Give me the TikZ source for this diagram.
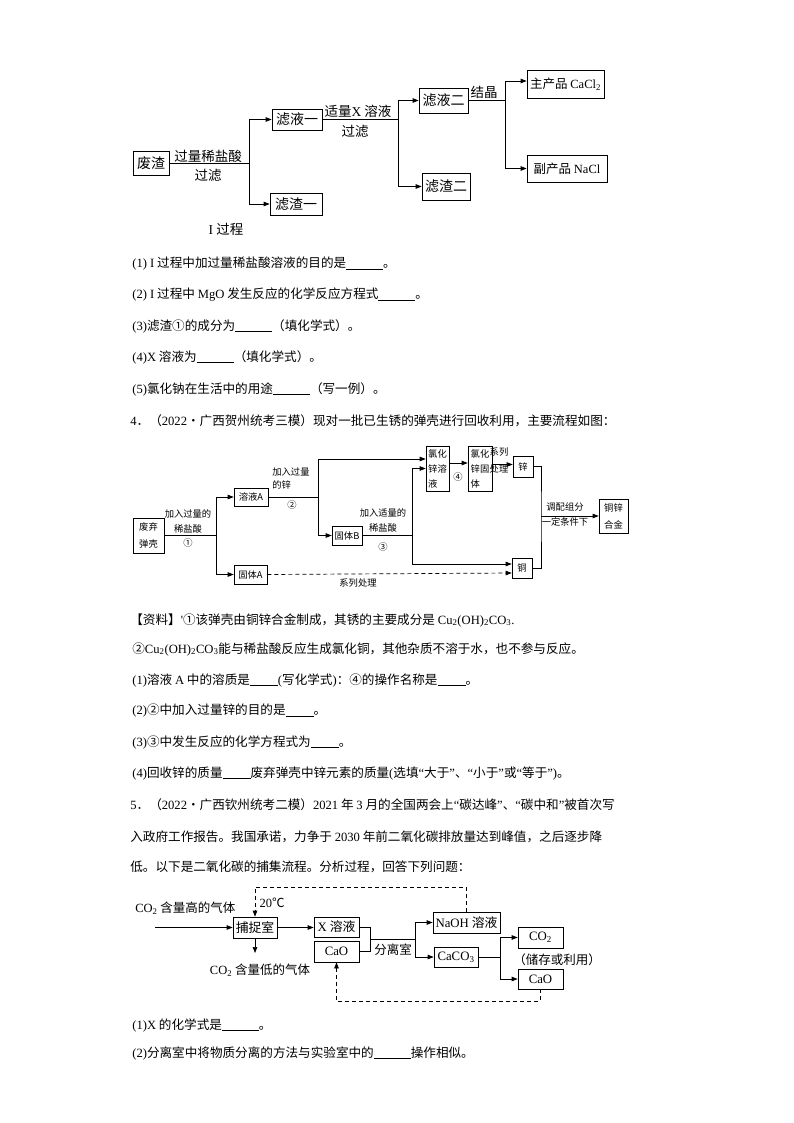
\documentclass[tikz,border=0pt]{standalone}
\usepackage{fontspec}
\setmainfont{Noto Sans CJK SC}
\newfontfamily\lat{Liberation Serif}
\usetikzlibrary{arrows.meta}
\newcommand\tm[1]{{\lat #1}}
\newcommand\blank[1]{\rule[-1.5pt]{#1pt}{0.5pt}}
\begin{document}
\begin{tikzpicture}[x=1pt,y=-1pt, line width=0.7pt,
 >={Triangle[length=6pt,width=4.5pt]},
 b1/.style={draw, inner sep=0pt, font=\fontsize{14}{15}\selectfont},
 b2/.style={draw, inner sep=0pt, line width=0.6pt, font=\fontsize{9.3}{15}\selectfont, align=center},
 b3/.style={draw, inner sep=0pt, font=\fontsize{12.8}{15}\selectfont},
 l1/.style={inner sep=0pt, font=\fontsize{13.5}{15}\selectfont},
 l2/.style={inner sep=0pt, font=\fontsize{9.3}{13}\selectfont},
 l3/.style={inner sep=0pt, font=\fontsize{12.5}{15}\selectfont},
 txt/.style={anchor=west, inner sep=0pt, font=\fontsize{12.6}{15}\selectfont},
 dsh/.style={dash pattern=on 4pt off 3pt}]
\fill[white] (0,0) rectangle (794,1123);
\useasboundingbox (0,0) rectangle (794,1123);

% ---------- diagram 1 ----------
\node[b1,minimum width=36,minimum height=24] (fz) at (151,163) {废渣};
\node[b1,minimum width=50,minimum height=21] (ly1) at (297,119.5) {滤液一};
\node[b1,minimum width=52,minimum height=22] (lz1) at (296,204) {滤渣一};
\node[b1,minimum width=49,minimum height=25] (ly2) at (443.5,100.5) {滤液二};
\node[b1,minimum width=48,minimum height=27] (lz2) at (446,186.5) {滤渣二};
\node[b1,minimum width=77,minimum height=28,font=\fontsize{12.5}{15}\selectfont] (zp) at (565.5,84) {主产品 \tm{CaCl\textsubscript{2}}};
\node[b1,minimum width=80,minimum height=27,font=\fontsize{12.5}{15}\selectfont] (fp) at (567,168.5) {副产品 \tm{NaCl}};

\draw (fz.east) -- ++(80,0) coordinate (j1);
\draw[->] (j1) |- (ly1.west);
\draw[->] (j1) |- (lz1.west);
\draw (ly1.east) -- ++(76,0) coordinate (j2);
\draw[->] (j2) |- (ly2.west);
\draw[->] (j2) |- (lz2.west);
\draw (ly2.east) -- ++(37,0) coordinate (j3);
\draw[->] (j3) |- ([yshift=3pt]zp.west);
\draw[->] (j3) |- (fp.west);

\node[l1] (t1a) at (208,156) {过量稀盐酸};
\node[l1] (t1b) at (208,175) {过滤};
\node[l1] (t1c) at (358,111) {适量\tm{X} 溶液};
\node[l1] (t1d) at (355,131) {过滤};
\node[l1] (t1e) at (484,92) {结晶};
\node[l1] (t1f) at (226,229) {\tm{I} 过程};

% ---------- questions 1 ----------
\node[txt] (q1) at (132,264) {\tm{(1) I} 过程中加过量稀盐酸溶液的目的是\blank{37}。};
\node[txt] (q2) at (132,295) {\tm{(2) I} 过程中 \tm{MgO} 发生反应的化学反应方程式\blank{37}。};
\node[txt] (q3) at (132,326) {\tm{(3)}滤渣①的成分为\blank{37}（填化学式）。};
\node[txt] (q4) at (132,357) {\tm{(4)X} 溶液为\blank{37}（填化学式）。};
\node[txt] (q5) at (132,389) {\tm{(5)}氯化钠在生活中的用途\blank{37}（写一例）。};
\node[txt] (q6) at (130,421) {\tm{4}．（\tm{2022}·广西贺州统考三模）现对一批已生锈的弹壳进行回收利用，主要流程如图：};

% ---------- diagram 2 ----------
\node[b2,minimum width=31,minimum height=35] (fq) at (148.5,535.5) {废弃\\[2pt]弹壳};
\node[b2,minimum width=34,minimum height=18] (rya) at (251,497) {溶液A};
\node[b2,minimum width=33,minimum height=19] (gta) at (250.5,574.5) {固体A};
\node[b2,minimum width=30,minimum height=19] (gtb) at (347,535.5) {固体B};
\node[b2,minimum width=23,minimum height=45,align=left] (lhr) at (437.5,468.5) {氯化\\锌溶\\液};
\node[b2,minimum width=24,minimum height=45,align=left] (lhg) at (480,468.5) {氯化\\锌固\\体};
\node[b2,minimum width=20,minimum height=21] (xin) at (523,466.5) {锌};
\node[b2,minimum width=20,minimum height=20] (tong) at (522,568) {铜};
\node[b2,minimum width=29,minimum height=34] (hj) at (613.5,516) {铜锌\\[2pt]合金};

\draw (fq.east) -- ++(52,0) coordinate (k1);
\draw[->] (k1) |- (rya.west);
\draw[->] (k1) |- (gta.west);
\draw (rya.east) -- ++(50,0) coordinate (k2);
\draw[->] (k2) |- ([yshift=9.5pt]lhr.west);
\draw[->] (k2) |- (gtb.west);
\draw (gtb.east) -- ++(50,0) coordinate (k3);
\draw[->] (k3) |- (lhr.west);
\draw[->] (k3) |- ([yshift=4pt]tong.west);
\draw[->,dsh] (gta.east) -- ([yshift=1.5pt]gta.east -| tong.west);
\draw[->] ([yshift=5.5pt]lhr.east) -- ([yshift=5.5pt]lhr.east -| lhg.west);
\draw[->] ([yshift=4pt]lhg.east) -- ([yshift=4pt]lhg.east -| xin.west);
\coordinate (k4) at (541,516);
\draw (xin.east) -| (k4) |- (tong.east);
\draw[->] (k4) -- (hj.west);

\node[l2] (a1) at (188,514) {加入过量的};
\node[l2] (a2) at (188,529) {稀盐酸};
\node[l2] (a3) at (188,543) {①};
\node[l2,align=left,anchor=north west] (a4) at (272,467) {加入过量\\的锌};
\node[l2] (a5) at (292,505) {②};
\node[l2] (a6) at (383,513) {加入适量的};
\node[l2] (a7) at (383,528) {稀盐酸};
\node[l2] (a8) at (383,547) {③};
\node[l2] (a9) at (458,477) {④};
\node[l2] (a10) at (499,452) {系列};
\node[l2] (a11) at (499,469) {处理};
\node[l2] (a12) at (358,583) {系列处理};
\node[l2] (a13) at (565,507) {调配组分};
\node[l2] (a14) at (565,522) {一定条件下};

% ---------- questions 2 ----------
\node[txt] (r1) at (130,620) {【资料】\tm{'}①该弹壳由铜锌合金制成，其锈的主要成分是 \tm{Cu\textsubscript{2}(OH)\textsubscript{2}CO\textsubscript{3}.}};
\node[txt] (r2) at (132,649) {②\tm{Cu\textsubscript{2}(OH)\textsubscript{2}CO\textsubscript{3}}能与稀盐酸反应生成氯化铜，其他杂质不溶于水，也不参与反应。};
\node[txt] (r3) at (132,680) {\tm{(1)}溶液 \tm{A} 中的溶质是\blank{28}\tm{(}写化学式\tm{)}：④的操作名称是\blank{28}。};
\node[txt] (r4) at (132,711) {\tm{(2)}②中加入过量锌的目的是\blank{28}。};
\node[txt] (r5) at (132,742) {\tm{(3)}③中发生反应的化学方程式为\blank{28}。};
\node[txt] (r6) at (132,773) {\tm{(4)}回收锌的质量\blank{28}废弃弹壳中锌元素的质量\tm{(}选填\tm{“}大于\tm{”}、\tm{“}小于\tm{”}或\tm{“}等于\tm{”)}。};
\node[txt] (r7) at (130,805) {\tm{5}．（\tm{2022}·广西钦州统考二模）\tm{2021} 年 \tm{3} 月的全国两会上\tm{“}碳达峰\tm{”}、\tm{“}碳中和\tm{”}被首次写};
\node[txt] (r8) at (130,837) {入政府工作报告。我国承诺，力争于 \tm{2030} 年前二氧化碳排放量达到峰值，之后逐步降};
\node[txt] (r9) at (130,867) {低。以下是二氧化碳的捕集流程。分析过程，回答下列问题：};

% ---------- diagram 3 ----------
\node[b3,minimum width=44,minimum height=21] (bz) at (255,927.5) {捕捉室};
\node[b3,minimum width=45,minimum height=20] (xr) at (336.5,927) {\tm{X} 溶液};
\node[b3,minimum width=45,minimum height=21] (cao1) at (336.5,951.5) {\tm{CaO}};
\node[b3,minimum width=67,minimum height=21] (naoh) at (466.5,922.5) {\tm{NaOH} 溶液};
\node[b3,minimum width=44,minimum height=20] (caco) at (456,957) {\tm{CaCO\textsubscript{3}}};
\node[b3,minimum width=45,minimum height=21] (co2) at (540.5,937.5) {\tm{CO\textsubscript{2}}};
\node[b3,minimum width=45,minimum height=20] (cao2) at (540.5,979) {\tm{CaO}};

\node[l3,anchor=west] (gin) at (135,908) {\tm{CO\textsubscript{2}} 含量高的气体};
\node[l3] (gout) at (260,970) {\tm{CO\textsubscript{2}} 含量低的气体};
\node[l3] (tc) at (272,903) {\tm{20}℃};
\node[l3] (flsl) at (393,950) {分离室};
\node[l3] (ccly) at (557,960) {（储存或利用）};

\coordinate (src) at (155,927.5);
\draw[->] (src) -- (bz.west);
\draw[->] (bz.east) -- (bz.east -| xr.west);
\coordinate (gdn) at (255,953);
\draw[->] (bz.south) -- (gdn);
\draw (xr.east) -- ++(11,0) coordinate (m1) |- (cao1.east);
\coordinate (m2) at (370,939);
\coordinate (m3) at (415,939);
\draw (m2) -- (m3);
\draw[->] (m3) |- (naoh.west);
\draw[->] (m3) |- (caco.west);
\draw (caco.east) -- ++(22,0) coordinate (m4);
\draw[->] (m4) |- (co2.west);
\draw[->] (m4) |- (cao2.west);
\coordinate (d1) at (255,887);
\draw[->,dsh] (naoh.north) |- (d1) -- (bz.north);
\coordinate (d2) at (336.5,1001);
\draw[->,dsh] (cao2.south) |- (d2) -- (cao1.south);

% ---------- questions 3 ----------
\node[txt] (s1) at (132,1025) {\tm{(1)X} 的化学式是\blank{37}。};
\node[txt] (s2) at (132,1053) {\tm{(2)}分离室中将物质分离的方法与实验室中的\blank{37}操作相似。};
\end{tikzpicture}
\end{document}
